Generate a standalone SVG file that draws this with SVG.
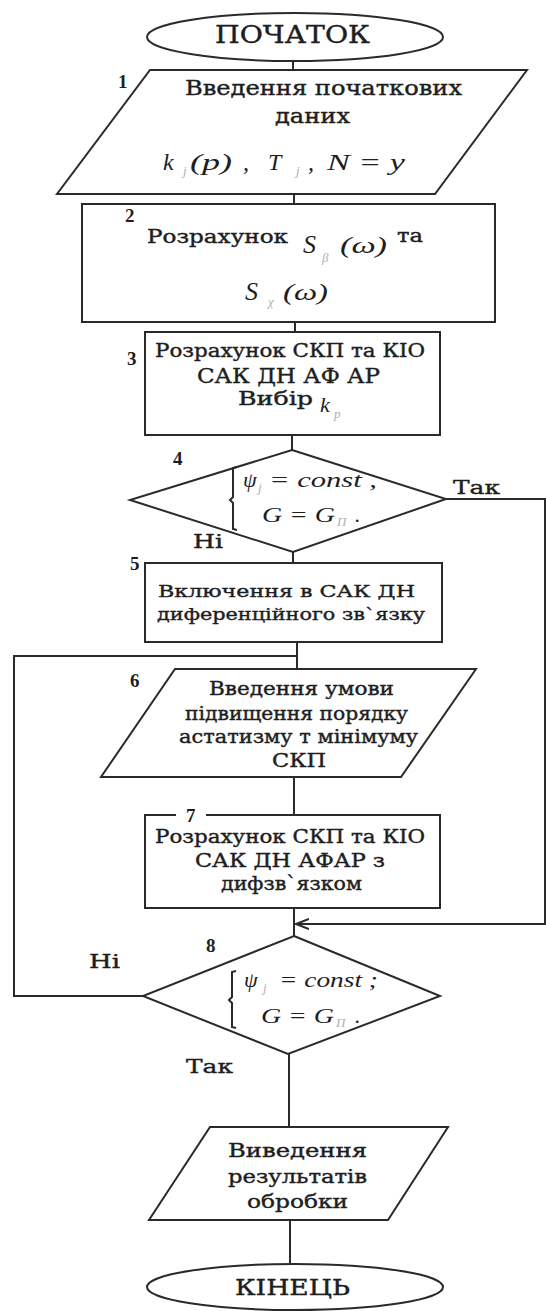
<svg xmlns="http://www.w3.org/2000/svg" width="546" height="1311" viewBox="0 0 546 1311">
<style>
.s{fill:none;stroke:#2a2a2a;stroke-width:2}
.w{fill:#fff;stroke:#2a2a2a;stroke-width:2}
.t{font-family:"DejaVu Serif","Liberation Serif",serif;fill:#1e1e1e;stroke:#1e1e1e;stroke-width:0.4}
.n{font-family:"Liberation Serif","DejaVu Serif",serif;font-weight:bold;fill:#1e1e1e;font-size:19px}
.m{font-family:"Liberation Serif","DejaVu Serif",serif;font-style:italic;fill:#1e1e1e}
.sub{font-family:"Liberation Serif","DejaVu Serif",serif;font-style:italic;fill:#b0b0b0;font-size:13px}
</style>
<defs>
<marker id="arr" viewBox="0 0 14 12" refX="13" refY="6" markerWidth="14" markerHeight="12" markerUnits="userSpaceOnUse" orient="auto">
<path d="M0,1 L13,6 L0,11" fill="none" stroke="#2a2a2a" stroke-width="2"/>
</marker>
</defs>
<rect width="546" height="1311" fill="#fff"/>
<g id="connectors">
<path class="s" d="M293,61 V70"/>
<path class="s" d="M294,194 V204"/>
<path class="s" d="M295,322 V332"/>
<path class="s" d="M292,435 V450"/>
<path class="s" d="M293,552 V563"/>
<path class="s" d="M297,642 V669"/>
<path class="s" d="M143,996 H14 V656 H297"/>
<path class="s" d="M294,777 V815"/>
<path class="s" d="M294,908 V936"/>
<path class="s" d="M446,499 H545 V924 H296" marker-end="url(#arr)"/>
<path class="s" d="M289,1054 V1127"/>
<path class="s" d="M290,1220 V1263"/>
</g>
<g id="start">
<ellipse class="w" cx="295" cy="37" rx="148" ry="24"/>
<text class="t" x="215" y="43" font-size="24" textLength="155" lengthAdjust="spacingAndGlyphs">ПОЧАТОК</text>
</g>
<g id="node1">
<polygon class="w" points="150,70 527,70 435,194 57,194"/>
<text class="n" x="118" y="88">1</text>
<text class="t" x="185" y="95" font-size="20" textLength="277" lengthAdjust="spacingAndGlyphs">Введення початкових</text>
<text class="t" x="275" y="123" font-size="20" textLength="75" lengthAdjust="spacingAndGlyphs">даних</text>
<text class="m" x="163" y="170" font-size="24">k</text>
<text class="sub" x="183" y="175">j</text>
<text class="m" x="190" y="170" font-size="24" textLength="42" lengthAdjust="spacingAndGlyphs">(p)</text>
<text class="m" x="243" y="170" font-size="24">,</text>
<text class="m" x="268" y="170" font-size="24">T</text>
<text class="sub" x="296" y="175">j</text>
<text class="m" x="308" y="170" font-size="24">,</text>
<text class="m" x="327" y="170" font-size="24" font-style="normal" textLength="78" lengthAdjust="spacingAndGlyphs">N = y</text>
</g>
<g id="node2">
<rect class="w" x="82" y="204" width="413" height="118"/>
<text class="n" x="125" y="222">2</text>
<text class="t" x="147" y="243" font-size="18" textLength="141" lengthAdjust="spacingAndGlyphs">Розрахунок</text>
<text class="m" x="303" y="253" font-size="26">S</text>
<text class="sub" x="322" y="262">β</text>
<text class="m" x="340" y="253" font-size="24" font-style="normal" textLength="47" lengthAdjust="spacingAndGlyphs">(ω)</text>
<text class="t" x="397" y="242" font-size="18" textLength="26" lengthAdjust="spacingAndGlyphs">та</text>
<text class="m" x="245" y="300" font-size="26">S</text>
<text class="sub" x="268" y="306">χ</text>
<text class="m" x="283" y="300" font-size="24" font-style="normal" textLength="45" lengthAdjust="spacingAndGlyphs">(ω)</text>
</g>
<g id="node3">
<rect class="w" x="145" y="332" width="295" height="103"/>
<text class="n" x="127" y="365">3</text>
<text class="t" x="155" y="357" font-size="18" textLength="270" lengthAdjust="spacingAndGlyphs">Розрахунок СКП та КІО</text>
<text class="t" x="197" y="383" font-size="20" textLength="183" lengthAdjust="spacingAndGlyphs">САК ДН АФ АР</text>
<text class="t" x="238" y="405" font-size="18" textLength="75" lengthAdjust="spacingAndGlyphs">Вибір</text>
<text class="m" x="320" y="412" font-size="22">k</text>
<text class="sub" x="334" y="418">р</text>
</g>
<g id="node4">
<polygon class="w" points="292,450 446,499 293,552 130,500"/>
<text class="n" x="173" y="465">4</text>
<path class="s" d="M237,467 L233,468 V497 L230,500 L233,503 V529 L237,530"/>
<text class="m" x="243" y="487" font-size="22">ψ</text>
<text class="sub" x="258" y="492">j</text>
<text class="m" x="269" y="487" font-size="22" textLength="108" lengthAdjust="spacingAndGlyphs">= const ,</text>
<text class="m" x="262" y="522" font-size="22" textLength="73" lengthAdjust="spacingAndGlyphs">G = G</text>
<text class="sub" x="337" y="526">П</text>
<text class="m" x="355" y="522" font-size="22">.</text>
<text class="t" x="453" y="494" font-size="19" textLength="47" lengthAdjust="spacingAndGlyphs">Так</text>
<text class="t" x="193" y="548" font-size="19" textLength="30" lengthAdjust="spacingAndGlyphs">Ні</text>
</g>
<g id="node5">
<rect class="w" x="145" y="563" width="297" height="79"/>
<text class="n" x="130" y="570">5</text>
<text class="t" x="158" y="597" font-size="17" textLength="257" lengthAdjust="spacingAndGlyphs">Включення в САК ДН</text>
<text class="t" x="157" y="620" font-size="17" textLength="268" lengthAdjust="spacingAndGlyphs">диференційного зв`язку</text>
</g>
<g id="node6">
<polygon class="w" points="175,669 476,669 401,777 101,777"/>
<text class="n" x="130" y="687">6</text>
<text class="t" x="209" y="695" font-size="18" textLength="185" lengthAdjust="spacingAndGlyphs">Введення умови</text>
<text class="t" x="185" y="720" font-size="18" textLength="223" lengthAdjust="spacingAndGlyphs">підвищення порядку</text>
<text class="t" x="179" y="743" font-size="18" textLength="239" lengthAdjust="spacingAndGlyphs">астатизму т мінімуму</text>
<text class="t" x="272" y="767" font-size="18" textLength="54" lengthAdjust="spacingAndGlyphs">СКП</text>
</g>
<g id="node7">
<rect class="w" x="145" y="815" width="295" height="93"/>
<rect x="176" y="810" width="30" height="10" fill="#fff"/>
<text class="n" x="186" y="822">7</text>
<text class="t" x="155" y="843" font-size="18" textLength="270" lengthAdjust="spacingAndGlyphs">Розрахунок СКП та КІО</text>
<text class="t" x="195" y="867" font-size="19" textLength="190" lengthAdjust="spacingAndGlyphs">САК ДН АФАР з</text>
<text class="t" x="221" y="890" font-size="18" textLength="141" lengthAdjust="spacingAndGlyphs">дифзв`язком</text>
</g>
<g id="node8">
<polygon class="w" points="294,936 440,996 288,1054 143,996"/>
<text class="n" x="206" y="952">8</text>
<path class="s" d="M236,971 L232,972 V997 L229,1000 L232,1003 V1027 L236,1028"/>
<text class="m" x="244" y="987" font-size="22">ψ</text>
<text class="sub" x="263" y="992">j</text>
<text class="m" x="279" y="987" font-size="22" textLength="99" lengthAdjust="spacingAndGlyphs">= const ;</text>
<text class="m" x="261" y="1023" font-size="22" textLength="73" lengthAdjust="spacingAndGlyphs">G = G</text>
<text class="sub" x="336" y="1027">П</text>
<text class="m" x="355" y="1023" font-size="22">.</text>
<text class="t" x="89" y="968" font-size="19" textLength="31" lengthAdjust="spacingAndGlyphs">Ні</text>
<text class="t" x="186" y="1073" font-size="19" textLength="47" lengthAdjust="spacingAndGlyphs">Так</text>
</g>
<g id="output">
<polygon class="w" points="210,1127 448,1127 388,1220 149,1220"/>
<text class="t" x="228" y="1157" font-size="18" textLength="139" lengthAdjust="spacingAndGlyphs">Виведення</text>
<text class="t" x="228" y="1183" font-size="18" textLength="139" lengthAdjust="spacingAndGlyphs">результатів</text>
<text class="t" x="247" y="1208" font-size="18" textLength="101" lengthAdjust="spacingAndGlyphs">обробки</text>
</g>
<g id="end">
<ellipse class="w" cx="295" cy="1287" rx="148" ry="23"/>
<text class="t" x="235" y="1295" font-size="22" textLength="115" lengthAdjust="spacingAndGlyphs">КІНЕЦЬ</text>
</g>
</svg>
